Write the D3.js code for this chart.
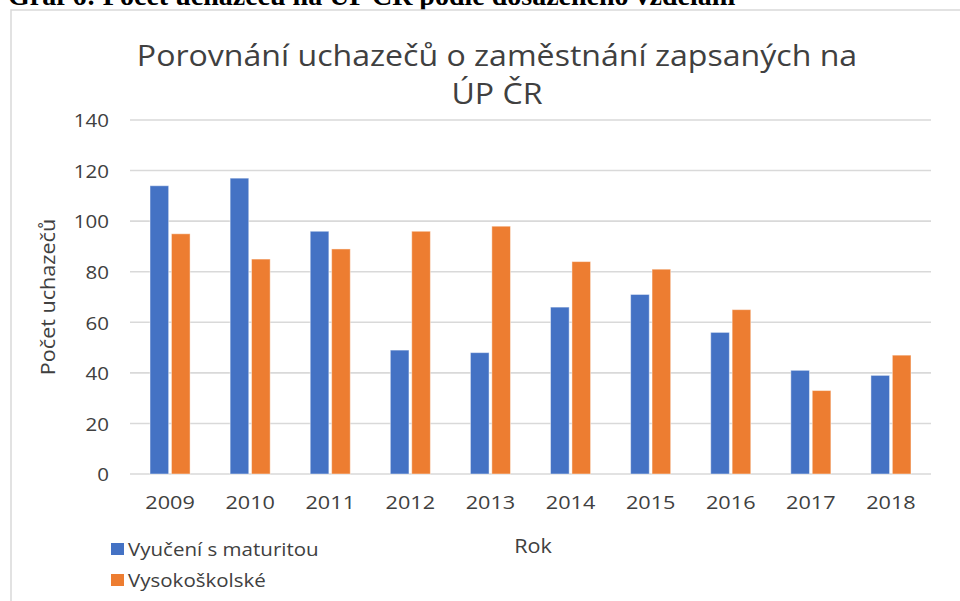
<!DOCTYPE html>
<html><head><meta charset="utf-8">
<script src="https://cdn.jsdelivr.net/npm/d3@7/dist/d3.min.js"></script>
<style>body{margin:0;background:#fff}svg{display:block}</style>
</head><body>
<svg id="c" width="960" height="601"></svg>
<script>
const categories = ["2009","2010","2011","2012","2013","2014","2015","2016","2017","2018"];
const seriesNames = ["Vyučení s maturitou","Vysokoškolské"];
const vyuceni = [114,117,96,49,48,66,71,56,41,39];
const vysoko = [95,85,89,96,98,84,81,65,33,47];
const yTicks = [0,20,40,60,80,100,120,140];
const colors = ["#4472C4","#ED7D31"];

(function(){
const svg = d3.select("#c");
const font = "'Open Sans', sans-serif";
const txt = "#404040";
const SX = 1.08;

// outer caption (cropped)
svg.append("text").attr("x",8).attr("y",5)
  .attr("font-family","'Liberation Serif', serif").attr("font-weight","bold")
  .attr("font-size",28).attr("fill","#000")
  .text("Graf 6: Počet uchazečů na ÚP ČR podle dosaženého vzdělání");

// chart border
svg.append("rect").attr("x",11).attr("y",10).attr("width",980).attr("height",620)
  .attr("fill","#fff").attr("stroke","#d9d9d9").attr("stroke-width",1.5);

const pL=130, pR=931, pT=120, pB=474;
const x = d3.scaleBand().domain(categories).range([pL,pR]).paddingInner(0.5).paddingOuter(0.25);
const xs = d3.scaleBand().domain([0,1]).range([0,x.bandwidth()]).paddingInner(0.13);
const y = d3.scaleLinear().domain([0,140]).range([pB,pT]);

// gridlines
svg.append("g").selectAll("line").data(yTicks).join("line")
  .attr("x1",pL).attr("x2",pR).attr("y1",d=>y(d)).attr("y2",d=>y(d))
  .attr("stroke","#d9d9d9").attr("stroke-width",1.6);

// y axis labels
const yAxis = d3.axisLeft(y).tickValues(yTicks).tickSize(0).tickPadding(0);
const ga = svg.append("g").attr("transform",`translate(${pL-21},0)`).call(yAxis);
ga.select(".domain").remove();
ga.selectAll("text").attr("font-family",font).attr("font-size",19).attr("fill",txt)
  .attr("dy","0.36em").attr("transform",`scale(${SX},1)`);

// bars
const data = categories.map((c,i)=>({c, v:[vyuceni[i],vysoko[i]]}));
const g = svg.append("g");
g.selectAll("g").data(data).join("g").attr("transform",d=>`translate(${x(d.c)},0)`)
  .selectAll("rect").data(d=>d.v.map((v,k)=>({v,k}))).join("rect")
  .attr("x",d=>xs(d.k)).attr("width",xs.bandwidth())
  .attr("y",d=>y(d.v)).attr("height",d=>y(0)-y(d.v))
  .attr("fill",d=>colors[d.k]).attr("stroke","#fff").attr("stroke-opacity",0.45).attr("stroke-width",1);

// x axis labels
const xAxis = d3.axisBottom(x).tickSize(0).tickPadding(0);
const gx = svg.append("g").attr("transform",`translate(0,${pB+28})`).call(xAxis);
gx.select(".domain").remove();
gx.selectAll("text").attr("font-family",font).attr("font-size",19).attr("fill",txt)
  .attr("dy","0.36em").attr("transform",`scale(1.14,1)`);

// title
const t = svg.append("g").attr("transform","translate(497,0) scale(1.07,1)")
  .append("text").attr("text-anchor","middle").attr("font-family",font)
  .attr("font-size",30).attr("fill",txt);
t.append("tspan").attr("x",0).attr("y",66).text("Porovnání uchazečů o zaměstnání zapsaných na");
t.append("tspan").attr("x",0).attr("y",104).text("ÚP ČR");

// axis titles
svg.append("text").attr("transform",`translate(55,297) rotate(-90) scale(${SX},1)`).attr("text-anchor","middle")
  .attr("font-family",font).attr("font-size",20).attr("fill",txt).text("Počet uchazečů");
svg.append("text").attr("transform",`translate(533,553) scale(${SX},1)`).attr("text-anchor","middle")
  .attr("font-family",font).attr("font-size",20).attr("fill",txt).text("Rok");

// legend
const lg = svg.append("g").selectAll("g").data(seriesNames).join("g")
  .attr("transform",(d,i)=>`translate(111,${549+i*31})`);
lg.append("rect").attr("x",0).attr("y",-6).attr("width",13).attr("height",12).attr("fill",(d,i)=>colors[i]);
lg.append("text").attr("transform",`translate(17,0) scale(${SX},1)`).attr("dy","0.36em").attr("font-family",font)
  .attr("font-size",19).attr("fill",txt).text(d=>d);
})();
</script>
</body></html>
